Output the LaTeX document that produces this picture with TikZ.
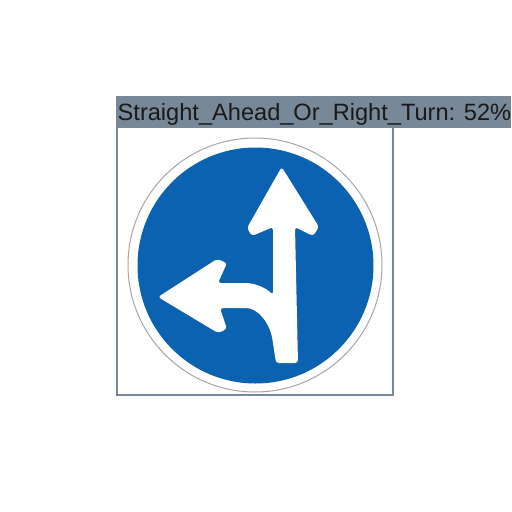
\documentclass[tikz,border=0pt]{standalone}
\usepackage{fontspec}
\setmainfont{Liberation Sans}
\definecolor{slate}{HTML}{778899}
\definecolor{signblue}{HTML}{0B62B0}
\tikzstyle{frame} = [draw=slate, line width=2pt]
\tikzstyle{tag} = [fill=slate, inner sep=0pt, anchor=west, text=black!90, minimum height=32pt, minimum width=395pt]
\tikzstyle{sign} = [fill=white, draw=none, rounded corners=3pt]

\begin{document}
\begin{tikzpicture}[x=1pt,y=-1pt]

  \useasboundingbox (0,0) rectangle (512,512);
  \fill[white] (0,0) rectangle (512,512);

  \draw[frame] (117,97) rectangle (393,395);

  \draw[black!35, line width=1pt, fill=white] (255,265) circle (127);
  \fill[signblue] (255.5,265.5) circle (118);

  % straight on, with the branch to the left
  \fill[sign] (281.7,167) -- (319,227) -- (313,236) -- (295,227) -- (298,363)
    -- (276,363) -- (273,343)
    .. controls (270,323) and (258,308) .. (243,308)
    -- (220,308) -- (227,329) -- (218,333) -- (158,297) -- (217,259) -- (227,263) -- (218,283)
    -- (243,283)
    .. controls (255,283) and (266,288) .. (273,295)
    -- (273,227) -- (252,236) -- (247,228) -- cycle;

  \node[tag] (label) at (116,112) {\makebox[395pt][l]{\hspace{1.5pt}\raisebox{-8pt}[0pt][0pt]{\fontsize{23.6}{24}\selectfont Straight\_Ahead\_Or\_Right\_Turn: 52\%}}};

\end{tikzpicture}
\end{document}
